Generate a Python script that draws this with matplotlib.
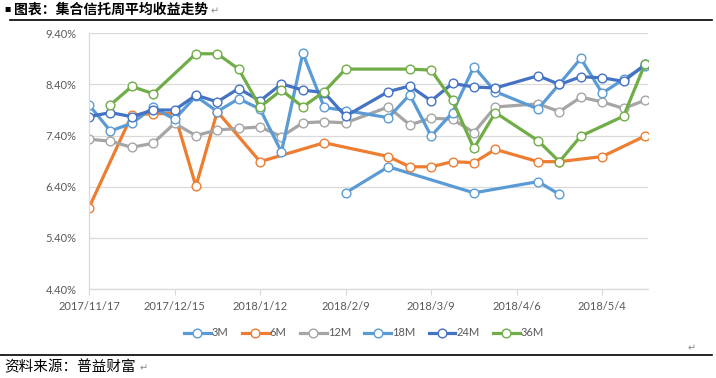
import matplotlib
matplotlib.use('Agg')
import matplotlib.pyplot as plt
from matplotlib.lines import Line2D
import numpy as np
import pandas as pd

# weekly dates (2018/2/16 and 2018/4/6 have no data)
dates = ['2017-11-17', '2017-11-24', '2017-12-01', '2017-12-08', '2017-12-15',
         '2017-12-22', '2017-12-29', '2018-01-05', '2018-01-12', '2018-01-19',
         '2018-01-26', '2018-02-02', '2018-02-09', '2018-02-16', '2018-02-23',
         '2018-03-02', '2018-03-09', '2018-03-16', '2018-03-23', '2018-03-30',
         '2018-04-06', '2018-04-13', '2018-04-20', '2018-04-27', '2018-05-04',
         '2018-05-11', '2018-05-18']

N = None
m3 = [N, N, N, N, N, N, N, N, N, N, N, N, 6.28, N, 6.79, N, N, N, 6.28, N,
      N, 6.50, 6.25, N, N, N, N]
m6 = [5.99, N, 7.80, 7.83, 7.83, 6.41, 7.87, N, 6.89, N, N, 7.26, N, N, 6.99,
      6.79, 6.79, 6.89, 6.87, 7.13, N, 6.89, 6.89, N, 6.99, N, 7.39]
m12 = [7.33, 7.29, 7.17, 7.25, 7.64, 7.40, 7.51, 7.54, 7.57, 7.38, 7.65, 7.67,
       7.65, N, 7.96, 7.61, 7.74, 7.72, 7.46, 7.96, N, 8.02, 7.87, 8.15, 8.06,
       7.93, 8.09]
m18 = [8.00, 7.49, 7.64, 7.95, 7.72, 8.17, 7.87, 8.12, 7.92, 7.08, 9.01, 7.95,
       7.89, N, 7.75, 8.20, 7.39, 7.85, 8.75, 8.26, N, 7.92, 8.41, 8.91, 8.23,
       8.50, 8.76]
m24 = [7.77, 7.85, 7.77, 7.90, 7.90, 8.19, 8.06, 8.32, 8.08, 8.41, 8.29, 8.24,
       7.78, N, 8.26, 8.37, 8.08, 8.42, 8.35, 8.33, N, 8.57, 8.40, 8.55, 8.53,
       8.46, 8.79]
m36 = [N, 8.00, 8.36, 8.22, N, 9.00, 9.00, 8.70, 7.96, 8.29, 7.96, 8.26, 8.70,
       N, N, 8.70, 8.68, 8.09, 7.15, 7.85, N, 7.30, 6.89, 7.39, N, 7.78, 8.80]

series = [('3M', m3, '#5B9BD5'), ('6M', m6, '#ED7D31'), ('12M', m12, '#A5A5A5'),
          ('18M', m18, '#5B9BD5'), ('24M', m24, '#4472C4'), ('36M', m36, '#70AD47')]

tick_dates = ['2017-11-17', '2017-12-15', '2018-01-12', '2018-02-09',
              '2018-03-09', '2018-04-06', '2018-05-04']
tick_labels = ['2017/11/17', '2017/12/15', '2018/1/12', '2018/2/9',
               '2018/3/9', '2018/4/6', '2018/5/4']
y_ticks = [4.40, 5.40, 6.40, 7.40, 8.40, 9.40]

W, H = 716, 378
cjk = ['Noto Sans CJK SC', 'DejaVu Sans']
lab_font = 'Lato'
grey_txt = '#595959'
grid_c = '#D9D9D9'

fig = plt.figure(figsize=(W / 100, H / 100), dpi=100)
ax = fig.add_axes([89 / W, 1 - 289 / H, (648 - 89) / W, (289 - 33.3) / H])

x = pd.to_datetime(dates)
for name, vals, col in series:
    v = np.array([np.nan if a is None else a for a in vals], dtype=float)
    ok = ~np.isnan(v)
    ax.plot(x[ok], v[ok], color=col, lw=2.3, marker='o', ms=6.3,
            mfc='white', mec=col, mew=1.0, label=name, solid_joinstyle='round')

ax.set_ylim(4.40, 9.40)
ax.set_yticks(y_ticks)
ax.set_yticklabels(['%.2f%%' % t for t in y_ticks], fontfamily=lab_font,
                   fontsize=8, color=grey_txt)
ax.set_xlim(pd.Timestamp('2017-11-17'), pd.Timestamp('2018-05-19'))
ax.set_xticks(pd.to_datetime(tick_dates))
ax.set_xticklabels(tick_labels, fontfamily=lab_font, fontsize=8, color=grey_txt)
ax.tick_params(axis='y', length=0, pad=9)
ax.tick_params(axis='x', length=4, color=grid_c, pad=5)
ax.grid(axis='y', color=grid_c, lw=0.9)
ax.set_axisbelow(True)
for s in ['top', 'right']:
    ax.spines[s].set_visible(False)
for s in ['left', 'bottom']:
    ax.spines[s].set_color(grid_c)
    ax.spines[s].set_linewidth(0.9)

leg = fig.legend(loc='center', bbox_to_anchor=(364 / W, 1 - 333 / H), ncol=6,
                 frameon=False, prop={'family': lab_font, 'size': 8},
                 handlelength=2.4, handletextpad=0.1, columnspacing=1.2)
for t in leg.get_texts():
    t.set_color(grey_txt)

# title, separator lines and source (word-document frame)
fig.text(4 / W, 1 - 10 / H, '■', fontsize=4.5, family=cjk, va='center', ha='left')
fig.text(14 / W, 1 - 10 / H, '图表：集合信托周平均收益走势', fontsize=10,
         fontweight='bold', family=cjk, va='center', ha='left')
fig.text(211 / W, 1 - 11 / H, '↵', fontsize=7, color='#888888', family=cjk,
         va='center', ha='left')
fig.add_artist(Line2D([10 / W, 712 / W], [1 - 20 / H, 1 - 20 / H],
                      transform=fig.transFigure, color='black', lw=1.2))
fig.add_artist(Line2D([0, 712 / W], [1 - 355 / H, 1 - 355 / H],
                      transform=fig.transFigure, color='black', lw=1.2))
fig.text(688 / W, 1 - 348 / H, '↵', fontsize=7, color='#888888', family=cjk,
         va='center', ha='left')
fig.text(4 / W, 1 - 367 / H, '资料来源：普益财富', fontsize=10.5, family=cjk,
         va='center', ha='left')
fig.text(140 / W, 1 - 368 / H, '↵', fontsize=7, color='#888888', family=cjk,
         va='center', ha='left')

fig.savefig('out.png', dpi=100)
